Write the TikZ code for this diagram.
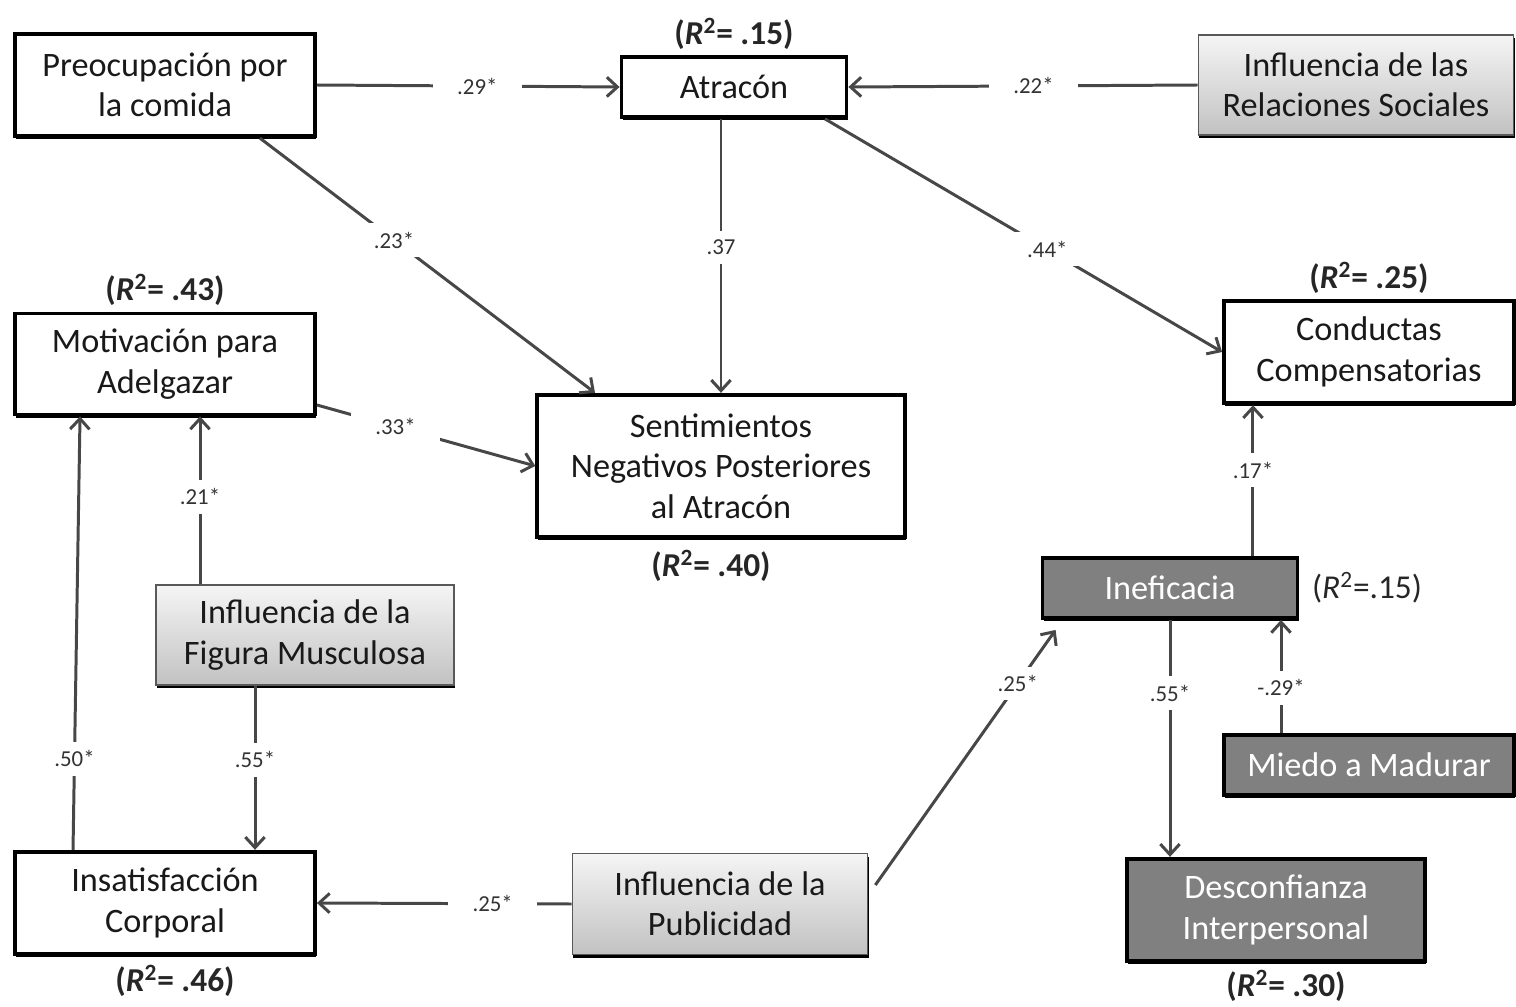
\documentclass[tikz,border=0pt]{standalone}
\usepackage{fontspec}
\setmainfont{Carlito}
\usetikzlibrary{arrows.meta, shadows, positioning}

\begin{document}
\begin{tikzpicture}[x=0.02cm, y=-0.02cm,
  var/.style={draw=black, line width=2.2pt, fill=white, align=center,
    font=\fontsize{19.5}{23}\selectfont, text=black!90,
    drop shadow={shadow xshift=0.6pt, shadow yshift=-1.8pt, fill=black, opacity=1}},
  infl/.style={var, draw=black!65, line width=1pt, top color=black!4, bottom color=black!24,
    drop shadow={shadow xshift=0.3pt, shadow yshift=-1.8pt, fill=black, opacity=1}},
  dark/.style={var, fill=black!50, text=white},
  rsq/.style={font=\fontsize{19}{22}\selectfont\bfseries, text=black!85, inner sep=1pt},
  coef/.style={fill=white, font=\fontsize{13}{15}\selectfont, text=black!80, inner xsep=14pt, inner ysep=5pt},
  path/.style={draw=black!72, line width=1.7pt, -{Straight Barb[length=6pt, width=11pt]}}]
  \useasboundingbox (0,0) rectangle (1516,1007);

  % variables
  \node[var, minimum width=6cm, minimum height=2.05cm] (pre) at (165,85) {Preocupación por\\la comida};
  \node[var, minimum width=4.5cm, minimum height=1.2cm] (atr) at (734,87) {Atracón};
  \node[infl, minimum width=6.3cm, minimum height=2cm] (rel) at (1356,85) {Influencia de las\\Relaciones Sociales};
  \node[var, minimum width=6cm, minimum height=2.02cm] (mot) at (165,364) {Motivación para\\Adelgazar};
  \node[var, minimum width=7.35cm, minimum height=2.85cm] (sen) at (721,466) {Sentimientos\\Negativos Posteriores\\al Atracón};
  \node[var, minimum width=5.8cm, minimum height=2.05cm] (con) at (1369,352) {Conductas\\Compensatorias};
  \node[infl, minimum width=5.95cm, minimum height=2cm] (fig) at (305,635) {Influencia de la\\Figura Musculosa};
  \node[dark, minimum width=5.1cm, minimum height=1.2cm] (ine) at (1170,588) {Ineficacia};
  \node[dark, minimum width=5.8cm, minimum height=1.2cm] (mie) at (1369,765) {Miedo a Madurar};
  \node[var, minimum width=6cm, minimum height=2.05cm] (ins) at (165,903) {Insatisfacción\\Corporal};
  \node[infl, minimum width=5.9cm, minimum height=2.02cm] (pub) at (720,904) {Influencia de la\\Publicidad};
  \node[dark, minimum width=5.95cm, minimum height=2.05cm] (des) at (1276,910) {Desconfianza\\Interpersonal};

  % varianza explicada
  \node[rsq, above=2pt of atr] (r-atr) {(\textit{R}\textsuperscript{2}= .15)};
  \node[rsq, above=2pt of mot] (r-mot) {(\textit{R}\textsuperscript{2}= .43)};
  \node[rsq, above=2pt of con] (r-con) {(\textit{R}\textsuperscript{2}= .25)};
  \node[rsq, below=5pt of sen, xshift=-0.2cm] (r-sen) {(\textit{R}\textsuperscript{2}= .40)};
  \node[rsq, below=4pt of ins, xshift=0.2cm] (r-ins) {(\textit{R}\textsuperscript{2}= .46)};
  \node[rsq, below=3pt of des, xshift=0.2cm] (r-des) {(\textit{R}\textsuperscript{2}= .30)};
  \node[rsq, font=\fontsize{19}{22}\selectfont, right=6pt of ine] (r-ine) {(\textit{R}\textsuperscript{2}=.15)};

  % paths
  \draw[path] (pre.east) -- node[coef, pos=0.53] {.29*} (atr.west);
  \draw[path] (rel.west) -- node[coef, pos=0.47] {.22*} (atr.east);
  \draw[path] ([xshift=1.9cm]pre.south) -- node[coef, pos=0.4] {.23*} ([xshift=-2.52cm]sen.north);
  \draw[path] (sen.north |- atr.south) -- node[coef, pos=0.47] {.37} (sen.north);
  \draw[path] ([xshift=1.82cm]atr.south) -- node[coef, pos=0.56] {.44*} (con.west);
  \draw[path] ([yshift=-0.82cm]mot.east) -- node[coef, pos=0.36] {.33*} (sen.west);
  \draw[path] ([xshift=-2.1cm]fig.north) -- node[coef, pos=0.52] {.21*} ([xshift=-2.1cm]fig.north |- mot.south);
  \draw[path] ([xshift=-1.84cm]ins.north) -- node[coef, pos=0.21] {.50*} ([xshift=-1.7cm]mot.south);
  \draw[path] ([xshift=-1cm]fig.south) -- node[coef, pos=0.45] {.55*} ([xshift=-1cm]fig.south |- ins.north);
  \draw[path] (pub.west) -- node[coef, pos=0.31] {.25*} (ins.east);
  \draw[path] ([xshift=0.14cm, yshift=0.38cm]pub.east) -- node[coef, pos=0.79] {.25*} ([xshift=0.3cm, yshift=-0.2cm]ine.south west);
  \draw[path] (ine.south) -- node[coef, pos=0.31] {.55*} (ine.south |- des.north);
  \draw[path] ([xshift=-1.76cm]mie.north) -- node[coef, pos=0.4] {-.29*} ([xshift=-1.76cm]mie.north |- ine.south);
  \draw[path] ([xshift=1.66cm]ine.north) -- node[coef, pos=0.57] {.17*} ([xshift=1.66cm]ine.north |- con.south);
\end{tikzpicture}
\end{document}
